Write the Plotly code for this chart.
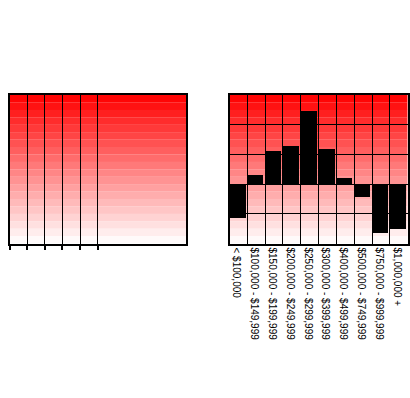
import base64
import plotly.graph_objects as go

categories = ["< $100,000", "$100,000 - $149,999", "$150,000 - $199,999",
              "$200,000 - $249,999", "$250,000 - $299,999", "$300,000 - $399,999",
              "$400,000 - $499,999", "$500,000 - $749,999", "$750,000 - $999,999",
              "$1,000,000 +"]
values = [-1.15, 0.3, 1.13, 1.27, 2.47, 1.18, 0.2, -0.42, -1.66, -1.52]
left_grid = [0, 1, 2, 3, 4, 5]
right_grid_y = [-1, 0, 1, 2]

# banded red -> white gradient as an SVG background
n = 20
rects = []
for k in range(n):
    t = k / (n - 1)
    g = int(round(5 + 245 * t))
    rects.append(f'<rect x="0" y="{k}" width="1" height="1.02" fill="rgb(255,{g},{g})"/>')
svg = (f'<svg xmlns="http://www.w3.org/2000/svg" width="100" height="100" '
       f'viewBox="0 0 1 {n}" preserveAspectRatio="none">' + "".join(rects) + '</svg>')
src = "data:image/svg+xml;base64," + base64.b64encode(svg.encode()).decode()

xs = list(range(len(categories)))

W, H = 410, 398
ytop, ybot = 95.0, 243.5

fig = go.Figure()
fig.add_trace(go.Bar(x=xs, y=values, offset=0, width=0.87,
                     marker=dict(color="black", line=dict(width=0)),
                     xaxis="x2", yaxis="y2", showlegend=False))
fig.add_trace(go.Scatter(x=[0], y=[0], mode="markers", marker=dict(opacity=0),
                         xaxis="x", yaxis="y", showlegend=False, hoverinfo="skip"))

ydom = [(H - ybot) / H, (H - ytop) / H]

fig.update_layout(
    width=W, height=H,
    margin=dict(l=0, r=0, t=0, b=0),
    paper_bgcolor="white", plot_bgcolor="white",
    font=dict(family="Liberation Sans", size=10, color="black"),
    xaxis=dict(domain=[9.5 / W, 186 / W], range=[0, 10], tickmode="array", tickvals=left_grid,
               showticklabels=False, ticks="outside", ticklen=4, tickwidth=1.5,
               tickcolor="black", showgrid=True, gridcolor="black", gridwidth=1.3,
               showline=True, linecolor="black", linewidth=2, mirror=True,
               zeroline=False, fixedrange=True),
    yaxis=dict(domain=ydom, range=[0, 1], showgrid=False, showticklabels=False,
               ticks="", showline=True, linecolor="black", linewidth=2, mirror=True,
               zeroline=False),
    xaxis2=dict(domain=[229.5 / W, 407.7 / W], range=[0, 10], anchor="y2",
                tickmode="array", tickvals=[i + 0.4 for i in xs], ticktext=categories,
                tickangle=90, ticks="", showgrid=False,
                minor=dict(tickmode="array", tickvals=list(range(11)), showgrid=True,
                           gridcolor="black", gridwidth=1.3, ticks=""),
                showline=True, linecolor="black", linewidth=2, mirror=True,
                zeroline=False),
    yaxis2=dict(domain=ydom, range=[-2, 3], anchor="x2",
                tickmode="array", tickvals=right_grid_y, showticklabels=False, ticks="",
                showgrid=True, gridcolor="black", gridwidth=1.3,
                zeroline=True, zerolinecolor="black", zerolinewidth=1.3,
                showline=True, linecolor="black", linewidth=2, mirror=True),
    images=[
        dict(source=src, xref="x domain", yref="y domain", x=0, y=1, sizex=1, sizey=1,
             sizing="stretch", layer="below", xanchor="left", yanchor="top"),
        dict(source=src, xref="x2 domain", yref="y2 domain", x=0, y=1, sizex=1, sizey=1,
             sizing="stretch", layer="below", xanchor="left", yanchor="top"),
    ],
    bargap=0,
)

fig.write_html("out.html", config={"displayModeBar": False},
               post_script="document.body.style.margin='0';document.body.style.overflow='hidden';")
